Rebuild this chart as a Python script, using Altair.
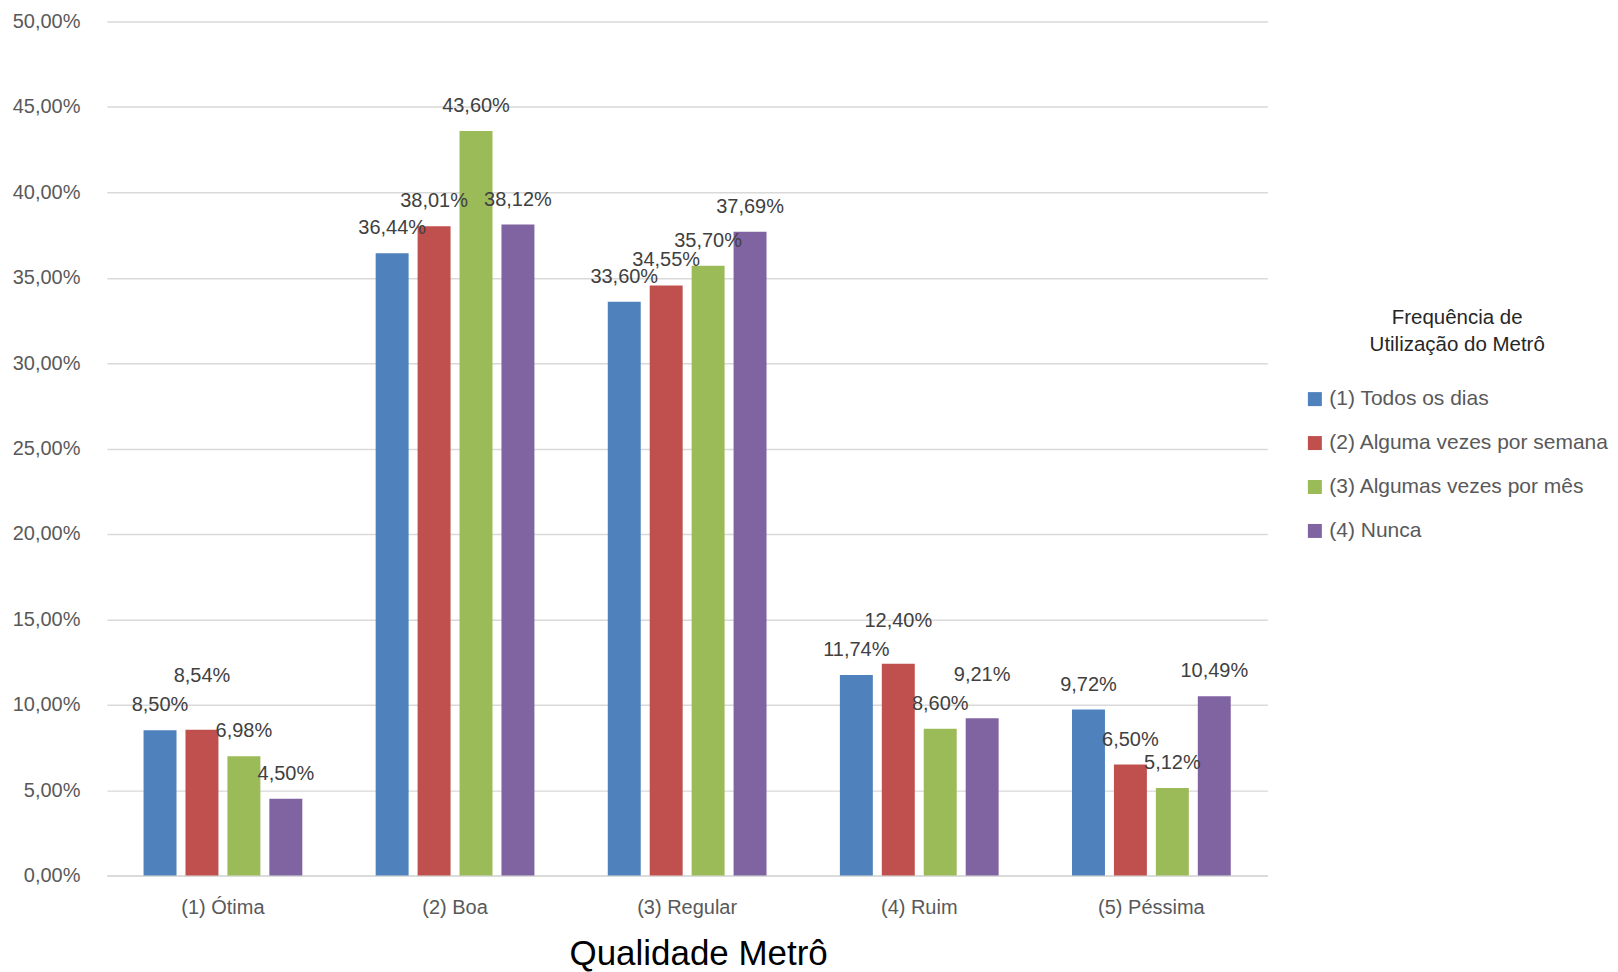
import altair as alt
import pandas as pd

categories = ["(1) Ótima", "(2) Boa", "(3) Regular", "(4) Ruim", "(5) Péssima"]
series = ["(1) Todos os dias", "(2) Alguma vezes por semana",
          "(3) Algumas vezes por mês", "(4) Nunca"]
todos_os_dias = [8.50, 36.44, 33.60, 11.74, 9.72]
por_semana = [8.54, 38.01, 34.55, 12.40, 6.50]
por_mes = [6.98, 43.60, 35.70, 8.60, 5.12]
nunca = [4.50, 38.12, 37.69, 9.21, 10.49]
colors = ["#4F81BD", "#C0504D", "#9BBB59", "#8064A2"]

all_series = [todos_os_dias, por_semana, por_mes, nunca]

# simple label collision rule (like the spreadsheet): if a label sits
# almost at the same height as its left neighbour's, lift it one line.
label_pos = {}
for ci in range(len(categories)):
    prev = None
    for si in range(len(series)):
        v = all_series[si][ci]
        p = v
        if prev is not None and 0 <= v - prev < 0.7:
            p = prev + 1.7
        label_pos[(si, ci)] = p
        prev = p

rows = []
for si, (s, vals) in enumerate(zip(series, all_series)):
    for ci, (c, v) in enumerate(zip(categories, vals)):
        rows.append({"Qualidade": c, "Frequencia": s, "valor": v,
                     "pos_rotulo": label_pos[(si, ci)],
                     "rotulo": f"{v:.2f}%".replace(".", ",")})
df = pd.DataFrame(rows)

FONT = "Liberation Sans"

x = alt.X("Qualidade:N", sort=categories,
          scale=alt.Scale(paddingInner=0.316, paddingOuter=0.158),
          axis=alt.Axis(title="Qualidade Metrô", labelAngle=0, ticks=False,
                        labelFontSize=20, labelColor="#595959", labelFont=FONT,
                        labelPadding=22, titleFontSize=35, titleFont=FONT,
                        titleFontWeight="normal", titleColor="#000000",
                        titlePadding=19, titleX=592, titleAlign="center",
                        domainColor="#d9d9d9", domainWidth=1.5))
xoff = alt.XOffset("Frequencia:N", sort=series,
                   scale=alt.Scale(paddingInner=0.214, paddingOuter=0))
yscale = alt.Scale(domain=[0, 50])
y = alt.Y("valor:Q", scale=yscale,
          axis=alt.Axis(title=None, values=list(range(0, 51, 5)), ticks=False,
                        domain=False, labelFontSize=20, labelColor="#595959",
                        labelFont=FONT, labelPadding=27,
                        labelExpr="replace(format(datum.value, '.2f'), '.', ',') + '%'",
                        gridColor="#d9d9d9", gridWidth=1.5))

bars = alt.Chart(df).mark_bar().encode(
    x=x, xOffset=xoff, y=y,
    color=alt.Color("Frequencia:N", sort=series,
                    scale=alt.Scale(domain=series, range=colors),
                    legend=alt.Legend(title=["Frequência de", "Utilização do Metrô"],
                                      orient="none", legendX=1199, legendY=287,
                                      titleFontSize=20.5, titleFont=FONT,
                                      titleFontWeight="normal", titleColor="#262626",
                                      titleLineHeight=27, titleAnchor="middle",
                                      titleAlign="center", titlePadding=33,
                                      labelFontSize=21, labelFont=FONT,
                                      labelColor="#595959", labelOffset=4,
                                      labelLimit=400,
                                      symbolType="square", symbolSize=196,
                                      symbolStrokeWidth=0, rowPadding=22,
                                      padding=0))
)

labels = alt.Chart(df).mark_text(fontSize=20, font=FONT, color="#404040",
                                 baseline="middle", dy=-25).encode(
    x=x, xOffset=xoff,
    y=alt.Y("pos_rotulo:Q", scale=yscale),
    text="rotulo:N")

chart = (bars + labels).properties(
    width=1162, height=855,
    padding={"left": 4, "top": 3, "right": 0, "bottom": 0}
).configure_view(stroke=None)

chart.save("out.html", embed_options={"renderer": "svg", "actions": False})
